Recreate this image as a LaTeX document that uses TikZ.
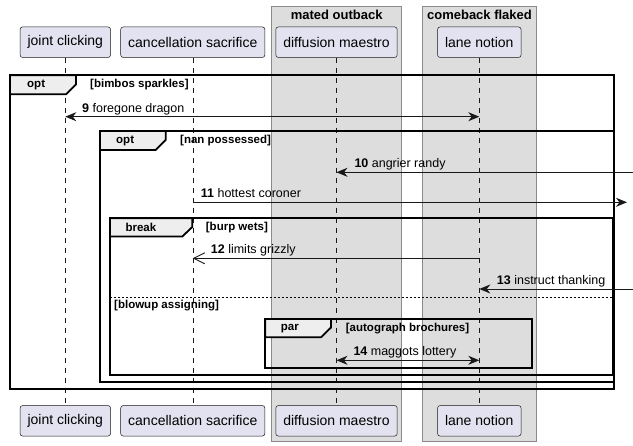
\documentclass[tikz,border=0pt]{standalone}
\usepackage{fontspec}
\setmainfont{Liberation Sans}
\usetikzlibrary{arrows.meta}

\definecolor{partfill}{HTML}{E2E2F0}
\definecolor{boxfill}{HTML}{DDDDDD}
\definecolor{boxline}{HTML}{8A8A8A}
\definecolor{tabfill}{HTML}{EEEEEE}
\definecolor{ink}{HTML}{181818}

\tikzset{
  part/.style={draw=ink, fill=partfill, rounded corners=2.5pt, line width=0.5pt,
    minimum height=30.5pt, inner xsep=7.5pt, font=\fontsize{14}{16}\selectfont},
  lane box/.style={draw=boxline, fill=boxfill, line width=0.6pt},
  box title/.style={font=\fontsize{13}{15}\selectfont\bfseries},
  life/.style={draw=ink, line width=0.5pt, dash pattern=on 5pt off 5pt},
  frame/.style={draw=black, line width=1.8pt},
  tab/.style={draw=black, fill=tabfill, line width=1.8pt},
  kind/.style={inner sep=0pt, anchor=west, font=\fontsize{11.5}{13}\selectfont\bfseries},
  guard/.style={inner sep=0pt, anchor=west, font=\fontsize{11.5}{13}\selectfont\bfseries},
  msg/.style={draw=ink, line width=0.9pt},
  lbl/.style={inner sep=0pt, anchor=base west, font=\fontsize{12.5}{14}\selectfont},
  >={Stealth[length=11pt,width=9pt,inset=3.5pt]}
}

\begin{document}
\begin{tikzpicture}[x=1pt,y=-1pt]
    \useasboundingbox (0,0) rectangle (633,446);

    % Boxes
    \draw[lane box] (271.7,6) rectangle (401.7,441);
    \node[box title] (mated) at (336.7,15) {mated outback};
    \draw[lane box] (422.3,6) rectangle (536.7,441);
    \node[box title] (flaked) at (479.5,15) {comeback flaked};

    % Participants
    \node[part] (joint) at (65.3,42.2) {joint clicking};
    \node[part] (cancel) at (192.8,42.2) {cancellation sacrifice};
    \node[part] (diffusion) at (336.5,42.2) {diffusion maestro};
    \node[part] (lane) at (479.3,42.2) {lane notion};
    \node[part] (jointb) at (65.3,420.8) {joint clicking};
    \node[part] (cancelb) at (192.8,420.8) {cancellation sacrifice};
    \node[part] (diffusionb) at (336.5,420.8) {diffusion maestro};
    \node[part] (laneb) at (479.3,420.8) {lane notion};

    % Lifelines
    \draw[life] (joint.south) -- (jointb.north);
    \draw[life] (cancel.south) -- (cancelb.north);
    \draw[life] (diffusion.south) -- (diffusionb.north);
    \draw[life] (lane.south) -- (laneb.north);

    % Fragments
    \draw[frame] (10,75.3) rectangle (614.3,389.3);
    \draw[tab] (10,75.3) -- (76,75.3) -- (76,84.3) -- (66,94.3) -- (10,94.3) -- cycle;
    \node[kind] (opta) at (27,85) {opt};
    \node[guard] (bimbos) at (90,85) {[bimbos sparkles]};

    \draw[frame] (100,131) rectangle (613.6,382.3);
    \draw[tab] (100,131) -- (165.7,131) -- (165.7,140) -- (155.7,150) -- (100,150) -- cycle;
    \node[kind] (optb) at (116,141) {opt};
    \node[guard] (nan) at (180,141) {[nan possessed]};

    \draw[frame] (110,218.3) rectangle (613,375.3);
    \draw[tab] (110,218.3) -- (192.3,218.3) -- (192.3,227) -- (182.3,236.5) -- (110,236.5) -- cycle;
    \node[kind] (brk) at (125.3,227.5) {break};
    \node[guard] (burp) at (205.7,227.5) {[burp wets]};
    \draw[black, line width=0.8pt, dash pattern=on 2pt off 2pt] (110,297.3) -- (613,297.3);
    \node[guard] (blowup) at (114,305.5) {[blowup assigning]};

    \draw[frame] (265.3,319) rectangle (531.7,368.3);
    \draw[tab] (265.3,319) -- (331,319) -- (331,327.5) -- (321,337.3) -- (265.3,337.3) -- cycle;
    \node[kind] (par) at (280.7,328.3) {par};
    \node[guard] (autograph) at (345.7,328.3) {[autograph brochures]};

    % Messages
    \coordinate (m9) at (0,116.7);
    \draw[msg,<->] (joint |- m9) -- (lane |- m9);
    \node[lbl] (l9) at (82,112.2) {\textbf{9} foregone dragon};

    \coordinate (e10) at (633,172.3);
    \draw[msg,->] (e10) -- (diffusion |- e10);
    \node[lbl] (l10) at (354.3,167.8) {\textbf{10} angrier randy};

    \coordinate (e11) at (627,202.3);
    \draw[msg,->] (cancel |- e11) -- (e11);
    \node[lbl] (l11) at (200.7,197.8) {\textbf{11} hottest coroner};

    \coordinate (m12) at (0,258.3);
    \draw[msg,-{Straight Barb[length=11pt,width=11pt]}] (lane |- m12) -- (cancel |- m12);
    \node[lbl] (l12) at (210.7,253.8) {\textbf{12} limits grizzly};

    \coordinate (e13) at (633,289);
    \draw[msg,->] (e13) -- (lane |- e13);
    \node[lbl] (l13) at (496.7,284.5) {\textbf{13} instruct thanking};

    \coordinate (m14) at (0,360.3);
    \draw[msg,<->] (diffusion |- m14) -- (lane |- m14);
    \node[lbl] (l14) at (353.3,355.8) {\textbf{14} maggots lottery};
\end{tikzpicture}
\end{document}
